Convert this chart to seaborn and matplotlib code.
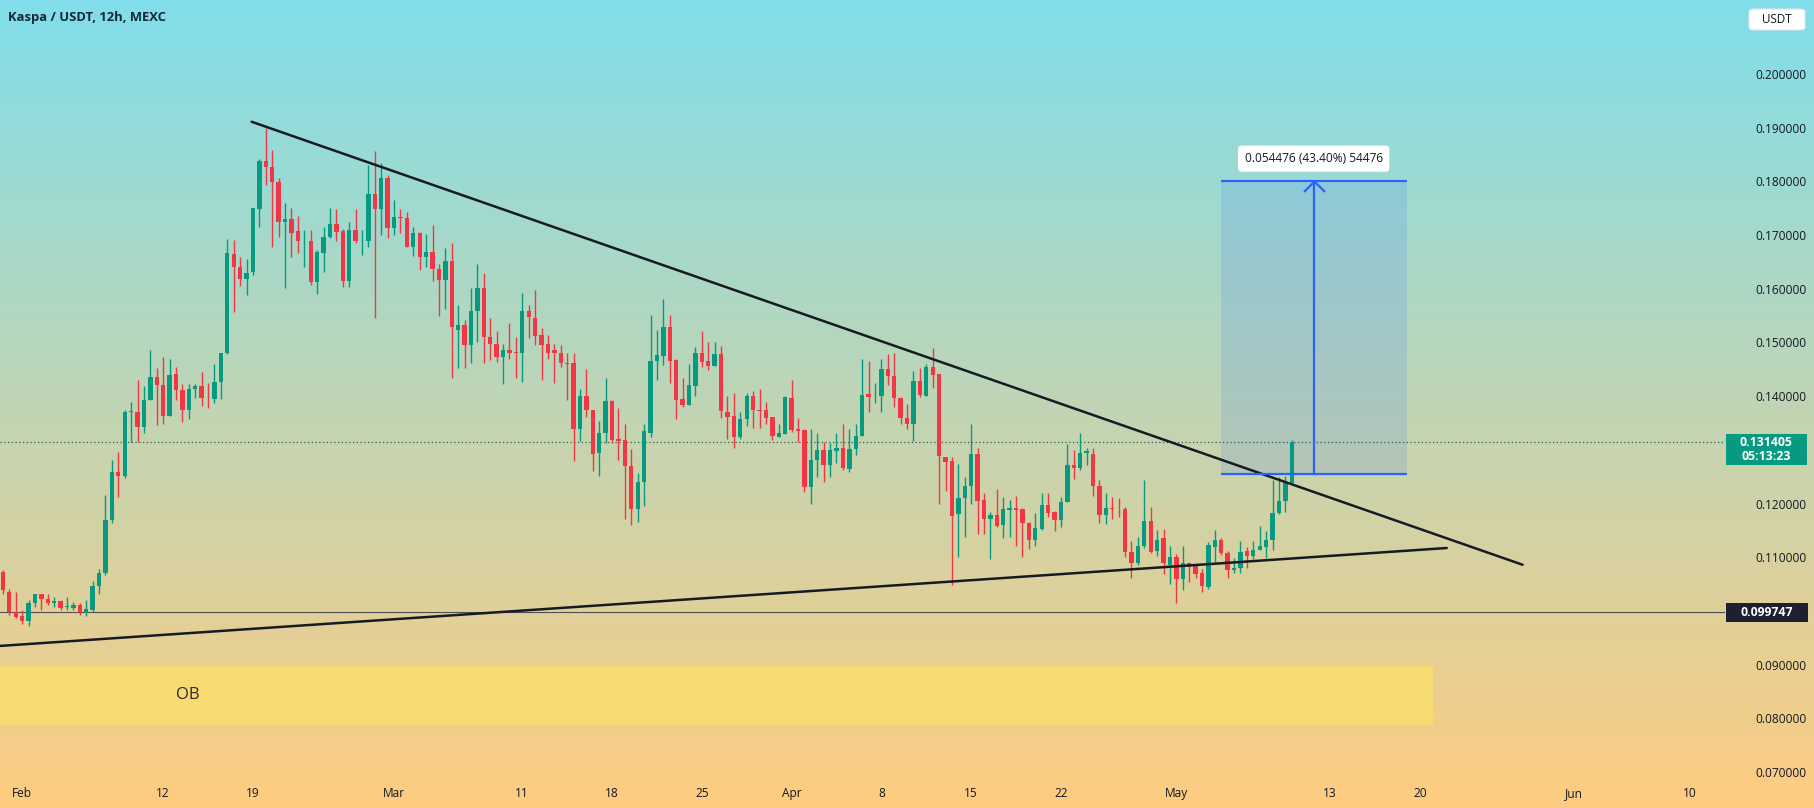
import numpy as np
import pandas as pd
import matplotlib
matplotlib.use("Agg")
import matplotlib.pyplot as plt
import matplotlib.dates as mdates
from matplotlib.patches import Rectangle, FancyBboxPatch
from matplotlib.path import Path
import seaborn as sns

sns.set_theme(style="white")
plt.rcParams['font.family'] = ['Open Sans', 'DejaVu Sans']

# ---------------- data (Kaspa / USDT, 12h candles) ----------------
first_candle = "2024-01-30 12:00"
open_ = [0.1073, 0.1036, 0.0998, 0.0990, 0.0982, 0.1014, 0.1031, 0.1023, 0.1015, 0.1018,
         0.1008, 0.1006, 0.1012, 0.0997, 0.1001, 0.1046, 0.1070, 0.1169, 0.1258, 0.1252,
         0.1371, 0.1371, 0.1342, 0.1393, 0.1435, 0.1421, 0.1363, 0.1442, 0.1411, 0.1375,
         0.1413, 0.1419, 0.1395, 0.1394, 0.1427, 0.1480, 0.1665, 0.1640, 0.1619, 0.1632,
         0.1748, 0.1838, 0.1826, 0.1799, 0.1725, 0.1730, 0.1708, 0.1688, 0.1689, 0.1613,
         0.1666, 0.1696, 0.1720, 0.1708, 0.1615, 0.1709, 0.1688, 0.1689, 0.1776, 0.1748,
         0.1806, 0.1714, 0.1733, 0.1732, 0.1678, 0.1704, 0.1660, 0.1669, 0.1636, 0.1617,
         0.1652, 0.1524, 0.1532, 0.1495, 0.1559, 0.1601, 0.1511, 0.1498, 0.1472, 0.1486,
         0.1482, 0.1481, 0.1559, 0.1545, 0.1514, 0.1497, 0.1485, 0.1480, 0.1461, 0.1461,
         0.1339, 0.1400, 0.1374, 0.1294, 0.1332, 0.1391, 0.1321, 0.1319, 0.1270, 0.1189,
         0.1240, 0.1332, 0.1465, 0.1475, 0.1529, 0.1467, 0.1394, 0.1383, 0.1419, 0.1480,
         0.1465, 0.1456, 0.1478, 0.1371, 0.1363, 0.1324, 0.1357, 0.1400, 0.1374, 0.1374,
         0.1362, 0.1324, 0.1330, 0.1397, 0.1339, 0.1337, 0.1231, 0.1281, 0.1300, 0.1272,
         0.1297, 0.1303, 0.1265, 0.1302, 0.1326, 0.1404, 0.1400, 0.1401, 0.1450, 0.1438,
         0.1397, 0.1360, 0.1348, 0.1428, 0.1401, 0.1455, 0.1441, 0.1287, 0.1279, 0.1180,
         0.1210, 0.1232, 0.1292, 0.1206, 0.1171, 0.1178, 0.1160, 0.1188, 0.1191, 0.1190,
         0.1163, 0.1133, 0.1153, 0.1197, 0.1184, 0.1170, 0.1203, 0.1272, 0.1266, 0.1294,
         0.1293, 0.1233, 0.1179, 0.1191, 0.1190, 0.1189, 0.1110, 0.1090, 0.1121, 0.1168,
         0.1112, 0.1135, 0.1086, 0.1100, 0.1060, 0.1090, 0.1083, 0.1070, 0.1044, 0.1120,
         0.1133, 0.1108, 0.1077, 0.1080, 0.1112, 0.1102, 0.1113, 0.1120, 0.1132, 0.1182,
         0.1205, 0.1239]
high = [0.1077, 0.1040, 0.1036, 0.1001, 0.1020, 0.1032, 0.1032, 0.1032, 0.1026, 0.1020,
        0.1026, 0.1017, 0.1014, 0.1020, 0.1056, 0.1079, 0.1216, 0.1282, 0.1296, 0.1374,
        0.1389, 0.1430, 0.1419, 0.1486, 0.1452, 0.1472, 0.1470, 0.1455, 0.1422, 0.1422,
        0.1422, 0.1445, 0.1424, 0.1460, 0.1480, 0.1692, 0.1691, 0.1660, 0.1655, 0.1750,
        0.1841, 0.1899, 0.1858, 0.1806, 0.1759, 0.1750, 0.1735, 0.1709, 0.1709, 0.1672,
        0.1715, 0.1750, 0.1748, 0.1712, 0.1725, 0.1748, 0.1709, 0.1830, 0.1857, 0.1834,
        0.1812, 0.1765, 0.1748, 0.1742, 0.1715, 0.1706, 0.1702, 0.1719, 0.1646, 0.1675,
        0.1685, 0.1570, 0.1542, 0.1601, 0.1646, 0.1630, 0.1545, 0.1522, 0.1498, 0.1536,
        0.1511, 0.1593, 0.1570, 0.1598, 0.1526, 0.1514, 0.1497, 0.1495, 0.1480, 0.1481,
        0.1414, 0.1450, 0.1375, 0.1354, 0.1433, 0.1393, 0.1377, 0.1349, 0.1301, 0.1256,
        0.1349, 0.1552, 0.1524, 0.1580, 0.1552, 0.1469, 0.1433, 0.1460, 0.1491, 0.1521,
        0.1500, 0.1501, 0.1493, 0.1400, 0.1405, 0.1371, 0.1406, 0.1410, 0.1413, 0.1390,
        0.1362, 0.1348, 0.1400, 0.1430, 0.1359, 0.1339, 0.1339, 0.1332, 0.1315, 0.1312,
        0.1332, 0.1349, 0.1339, 0.1349, 0.1469, 0.1466, 0.1425, 0.1469, 0.1479, 0.1481,
        0.1399, 0.1385, 0.1446, 0.1452, 0.1460, 0.1489, 0.1442, 0.1287, 0.1287, 0.1274,
        0.1250, 0.1349, 0.1303, 0.1220, 0.1185, 0.1228, 0.1213, 0.1207, 0.1214, 0.1192,
        0.1166, 0.1183, 0.1219, 0.1219, 0.1187, 0.1213, 0.1311, 0.1300, 0.1331, 0.1303,
        0.1303, 0.1244, 0.1220, 0.1213, 0.1210, 0.1194, 0.1131, 0.1137, 0.1243, 0.1193,
        0.1151, 0.1152, 0.1121, 0.1106, 0.1121, 0.1092, 0.1086, 0.1079, 0.1129, 0.1151,
        0.1135, 0.1112, 0.1098, 0.1131, 0.1120, 0.1131, 0.1158, 0.1149, 0.1244, 0.1250,
        0.1251, 0.1318]
low = [0.1032, 0.0992, 0.0986, 0.0975, 0.0972, 0.1008, 0.1001, 0.1011, 0.1008, 0.1001,
       0.1001, 0.1001, 0.0992, 0.0990, 0.0998, 0.1032, 0.1067, 0.1164, 0.1212, 0.1247,
       0.1315, 0.1315, 0.1332, 0.1393, 0.1346, 0.1349, 0.1363, 0.1393, 0.1352, 0.1357,
       0.1396, 0.1381, 0.1377, 0.1388, 0.1394, 0.1478, 0.1557, 0.1605, 0.1588, 0.1625,
       0.1715, 0.1793, 0.1677, 0.1697, 0.1601, 0.1660, 0.1666, 0.1640, 0.1607, 0.1591,
       0.1632, 0.1694, 0.1688, 0.1604, 0.1604, 0.1685, 0.1663, 0.1678, 0.1545, 0.1700,
       0.1694, 0.1700, 0.1703, 0.1678, 0.1661, 0.1634, 0.1641, 0.1615, 0.1549, 0.1563,
       0.1433, 0.1452, 0.1452, 0.1461, 0.1501, 0.1461, 0.1467, 0.1464, 0.1422, 0.1470,
       0.1433, 0.1427, 0.1509, 0.1495, 0.1430, 0.1470, 0.1425, 0.1455, 0.1392, 0.1280,
       0.1317, 0.1362, 0.1261, 0.1251, 0.1312, 0.1312, 0.1281, 0.1172, 0.1160, 0.1166,
       0.1195, 0.1324, 0.1430, 0.1458, 0.1424, 0.1357, 0.1379, 0.1383, 0.1400, 0.1455,
       0.1449, 0.1456, 0.1359, 0.1321, 0.1303, 0.1321, 0.1344, 0.1341, 0.1341, 0.1349,
       0.1318, 0.1323, 0.1330, 0.1334, 0.1315, 0.1222, 0.1200, 0.1250, 0.1241, 0.1250,
       0.1275, 0.1262, 0.1259, 0.1290, 0.1326, 0.1371, 0.1388, 0.1371, 0.1421, 0.1380,
       0.1348, 0.1338, 0.1317, 0.1398, 0.1400, 0.1415, 0.1200, 0.1224, 0.1048, 0.1101,
       0.1138, 0.1200, 0.1143, 0.1143, 0.1096, 0.1157, 0.1135, 0.1137, 0.1121, 0.1101,
       0.1115, 0.1121, 0.1151, 0.1175, 0.1148, 0.1157, 0.1203, 0.1245, 0.1262, 0.1272,
       0.1214, 0.1164, 0.1162, 0.1172, 0.1175, 0.1101, 0.1061, 0.1085, 0.1118, 0.1107,
       0.1102, 0.1069, 0.1051, 0.1014, 0.1039, 0.1054, 0.1061, 0.1036, 0.1040, 0.1092,
       0.1104, 0.1062, 0.1071, 0.1071, 0.1080, 0.1096, 0.1113, 0.1098, 0.1114, 0.1180,
       0.1185, 0.1238]
close = [0.1039, 0.0998, 0.0989, 0.0982, 0.1014, 0.1031, 0.1022, 0.1014, 0.1019, 0.1006,
         0.1009, 0.1012, 0.0998, 0.1004, 0.1046, 0.1070, 0.1169, 0.1258, 0.1252, 0.1371,
         0.1373, 0.1342, 0.1393, 0.1435, 0.1421, 0.1363, 0.1440, 0.1411, 0.1375, 0.1413,
         0.1419, 0.1396, 0.1394, 0.1427, 0.1480, 0.1666, 0.1640, 0.1619, 0.1630, 0.1750,
         0.1838, 0.1826, 0.1799, 0.1725, 0.1730, 0.1704, 0.1688, 0.1689, 0.1613, 0.1669,
         0.1696, 0.1720, 0.1706, 0.1615, 0.1709, 0.1688, 0.1689, 0.1776, 0.1748, 0.1806,
         0.1714, 0.1733, 0.1731, 0.1678, 0.1703, 0.1660, 0.1669, 0.1636, 0.1617, 0.1652,
         0.1528, 0.1532, 0.1495, 0.1559, 0.1601, 0.1511, 0.1498, 0.1472, 0.1486, 0.1480,
         0.1480, 0.1559, 0.1547, 0.1512, 0.1495, 0.1481, 0.1480, 0.1461, 0.1460, 0.1339,
         0.1400, 0.1374, 0.1293, 0.1332, 0.1391, 0.1319, 0.1317, 0.1270, 0.1189, 0.1240,
         0.1335, 0.1465, 0.1477, 0.1529, 0.1466, 0.1393, 0.1383, 0.1421, 0.1480, 0.1464,
         0.1456, 0.1478, 0.1373, 0.1362, 0.1324, 0.1357, 0.1400, 0.1374, 0.1373, 0.1359,
         0.1326, 0.1331, 0.1399, 0.1337, 0.1336, 0.1231, 0.1282, 0.1300, 0.1272, 0.1300,
         0.1303, 0.1267, 0.1302, 0.1326, 0.1403, 0.1399, 0.1401, 0.1450, 0.1438, 0.1397,
         0.1360, 0.1348, 0.1428, 0.1402, 0.1455, 0.1439, 0.1289, 0.1278, 0.1177, 0.1210,
         0.1233, 0.1292, 0.1205, 0.1171, 0.1178, 0.1159, 0.1189, 0.1191, 0.1188, 0.1163,
         0.1133, 0.1154, 0.1197, 0.1183, 0.1169, 0.1203, 0.1272, 0.1266, 0.1294, 0.1297,
         0.1233, 0.1179, 0.1191, 0.1190, 0.1189, 0.1110, 0.1090, 0.1121, 0.1168, 0.1110,
         0.1133, 0.1089, 0.1100, 0.1059, 0.1090, 0.1082, 0.1069, 0.1046, 0.1123, 0.1133,
         0.1107, 0.1077, 0.1080, 0.1110, 0.1102, 0.1113, 0.1121, 0.1132, 0.1182, 0.1205,
         0.1239, 0.131405]

# drawings on the chart
tick_dates = ["2024-02-01", "2024-02-12", "2024-02-19", "2024-03-01", "2024-03-11",
              "2024-03-18", "2024-03-25", "2024-04-01", "2024-04-08", "2024-04-15",
              "2024-04-22", "2024-05-01", "2024-05-13", "2024-05-20", "2024-06-01",
              "2024-06-10"]
tick_labels = ["Feb", "12", "19", "Mar", "11", "18", "25", "Apr", "8", "15", "22",
               "May", "13", "20", "Jun", "10"]
price_ticks = [0.07, 0.08, 0.09, 0.11, 0.12, 0.14, 0.15, 0.16, 0.17, 0.18, 0.19, 0.20]
down_line_dates = ["2024-02-18 21:30", "2024-05-28 00:00"]
down_line_prices = [0.1911, 0.1086]
up_line_dates = ["2024-01-29 00:00", "2024-05-22 02:00"]
up_line_prices = [0.09328, 0.11172]
ob_dates = ["2024-01-29 00:00", "2024-05-21 00:00"]
ob_prices = [0.0788, 0.0898]
measure_dates = ["2024-05-04 11:00", "2024-05-19 00:00", "2024-05-11 17:00"]
measure_prices = [0.125524, 0.180000]
measure_text = "0.054476 (43.40%) 54476"
support_price = 0.099747
last_price = 0.131405
countdown = "05:13:23"
title = "Kaspa / USDT, 12h, MEXC"

# ---------------- figure ----------------
W, H = 1815, 808
fig = plt.figure(figsize=(W / 100, H / 100), dpi=100)

def fx(px):
    return px / W

def fy(py):
    return 1 - py / H

# gradient background
bg = fig.add_axes([0, 0, 1, 1], zorder=-5)
top = np.array([128, 222, 234]) / 255
bot = np.array([255, 204, 128]) / 255
t = np.linspace(0, 1, 400)[:, None]
grad = (top[None, :] * (1 - t) + bot[None, :] * t)[:, None, :]
bg.imshow(grad, aspect="auto", extent=[0, 1, 0, 1])
bg.axis("off")

ax_bottom_px = 782
ax = fig.add_axes([0, fy(ax_bottom_px), fx(1725), ax_bottom_px / H])
ax.set_facecolor("none")
for s in ax.spines.values():
    s.set_visible(False)
ax.grid(False)

d2n = lambda s: mdates.date2num(pd.Timestamp(s).to_pydatetime())
base = d2n("2024-02-12")
ax.set_xlim(base - 12.725, base + 121.78)
ax.set_ylim(0.068146, 0.21377)

times = pd.date_range(first_candle, periods=len(open_), freq="12h")
df = pd.DataFrame({"x": mdates.date2num(times.to_pydatetime()),
                   "open": open_, "high": high, "low": low, "close": close})
up = df["close"] >= df["open"]
GREEN, RED = "#089981", "#f23645"
colors = np.where(up, GREEN, RED)

# OB zone
x0, x1 = d2n(ob_dates[0]), d2n(ob_dates[1])
ax.add_patch(Rectangle((x0, ob_prices[0]), x1 - x0, ob_prices[1] - ob_prices[0],
                       facecolor="#f8da72", edgecolor="none", zorder=1))
ax.text(d2n("2024-02-13 22:00"), (ob_prices[0] + ob_prices[1]) / 2, "OB",
        fontsize=12, color="#2a2a2a", va="center", ha="center", zorder=2)

# horizontal levels
ax.axhline(support_price, color="#505050", lw=0.8, zorder=2)
ax.axhline(last_price, color="#2d5a50", lw=0.9, ls=(0, (1, 2)), zorder=2)

# measurement box
mx0, mx1, mxa = d2n(measure_dates[0]), d2n(measure_dates[1]), d2n(measure_dates[2])
BLUE = "#2962ff"
ax.add_patch(Rectangle((mx0, measure_prices[0]), mx1 - mx0,
                       measure_prices[1] - measure_prices[0],
                       facecolor=BLUE, alpha=0.13, edgecolor="none", zorder=2))

# candles
ax.vlines(df["x"], df["low"], df["high"], colors=colors, lw=1.0, zorder=3)
body_h = np.maximum((df["close"] - df["open"]).abs(), 0.00012)
ax.bar(df["x"], body_h, bottom=np.minimum(df["open"], df["close"]), width=0.34,
       color=colors, linewidth=0, zorder=4)

# trend lines (seaborn)
sns.lineplot(x=[d2n(d) for d in down_line_dates], y=down_line_prices, ax=ax,
             color="#161a22", lw=1.8, zorder=5)
sns.lineplot(x=[d2n(d) for d in up_line_dates], y=up_line_prices, ax=ax,
             color="#161a22", lw=1.8, zorder=5)

# measurement lines & arrow
for p in measure_prices:
    ax.plot([mx0, mx1], [p, p], color=BLUE, lw=1.6, zorder=6, solid_capstyle="butt")
ax.plot([mxa, mxa], measure_prices, color=BLUE, lw=1.6, zorder=6)
chev = Path([(-1, -1), (0, 0), (1, -1)], [Path.MOVETO, Path.LINETO, Path.LINETO])
ax.plot([mxa], [measure_prices[1]], marker=chev, markersize=15, markerfacecolor="none",
        markeredgecolor=BLUE, markeredgewidth=1.6, zorder=6)
ax.annotate(measure_text, xy=(mxa, measure_prices[1]), xytext=(0, 16.3),
            textcoords="offset points", ha="center", va="center", fontsize=8.6,
            color="#131722", zorder=7,
            bbox=dict(boxstyle="round,pad=0.55,rounding_size=0.3", fc="white", ec="none"))

# axes ticks
ax.yaxis.tick_right()
ax.set_yticks(price_ticks)
ax.set_yticklabels([f"{v:.6f}" for v in price_ticks])
ax.tick_params(axis="y", length=0, pad=22, labelsize=8.6, labelcolor="#131722")
ax.set_xticks([d2n(d) for d in tick_dates])
ax.set_xticklabels(tick_labels)
ax.tick_params(axis="x", length=0, pad=3.5, labelsize=8.6, labelcolor="#131722")
ax.set_xlabel("")
ax.set_ylabel("")

# price label boxes on the right scale
def ybox(price):
    return ax.transData.transform((0, price))[1]

fig.canvas.draw()
yl = ybox(last_price)  # display px from bottom
fig.add_artist(Rectangle((fx(1726), (yl - 22.5) / H), fx(81), 31 / H,
                         transform=fig.transFigure, facecolor=GREEN, edgecolor="none",
                         zorder=4))
fig.text(fx(1766), (yl - 0.5) / H, f"{last_price:.6f}", ha="center", va="center",
         fontsize=8.8, color="white", fontweight="bold", zorder=5)
fig.text(fx(1766), (yl - 14.5) / H, countdown, ha="center", va="center",
         fontsize=8.8, color="white", fontweight="bold", zorder=5)

ys = ybox(support_price)
fig.add_artist(Rectangle((fx(1726), (ys - 9.5) / H), fx(82), 19 / H,
                         transform=fig.transFigure, facecolor="#1c2030", edgecolor="none",
                         zorder=4))
fig.text(fx(1767), ys / H, f"{support_price:.6f}", ha="center", va="center",
         fontsize=8.8, color="white", fontweight="bold", zorder=5)

# USDT box
fig.add_artist(FancyBboxPatch((fx(1749), fy(30)), fx(56), 21 / H,
                              boxstyle="round,pad=0,rounding_size=0.003",
                              transform=fig.transFigure, facecolor="white",
                              edgecolor="#e0e3eb", lw=0.8, zorder=4))
fig.text(fx(1777), fy(19.5), "USDT", ha="center", va="center", fontsize=8.4,
         color="#131722", zorder=5)

# title
fig.text(fx(8), fy(17), title, ha="left", va="center", fontsize=9.4,
         fontweight="bold", color="#14283a")

fig.savefig("out.png", dpi=100)
